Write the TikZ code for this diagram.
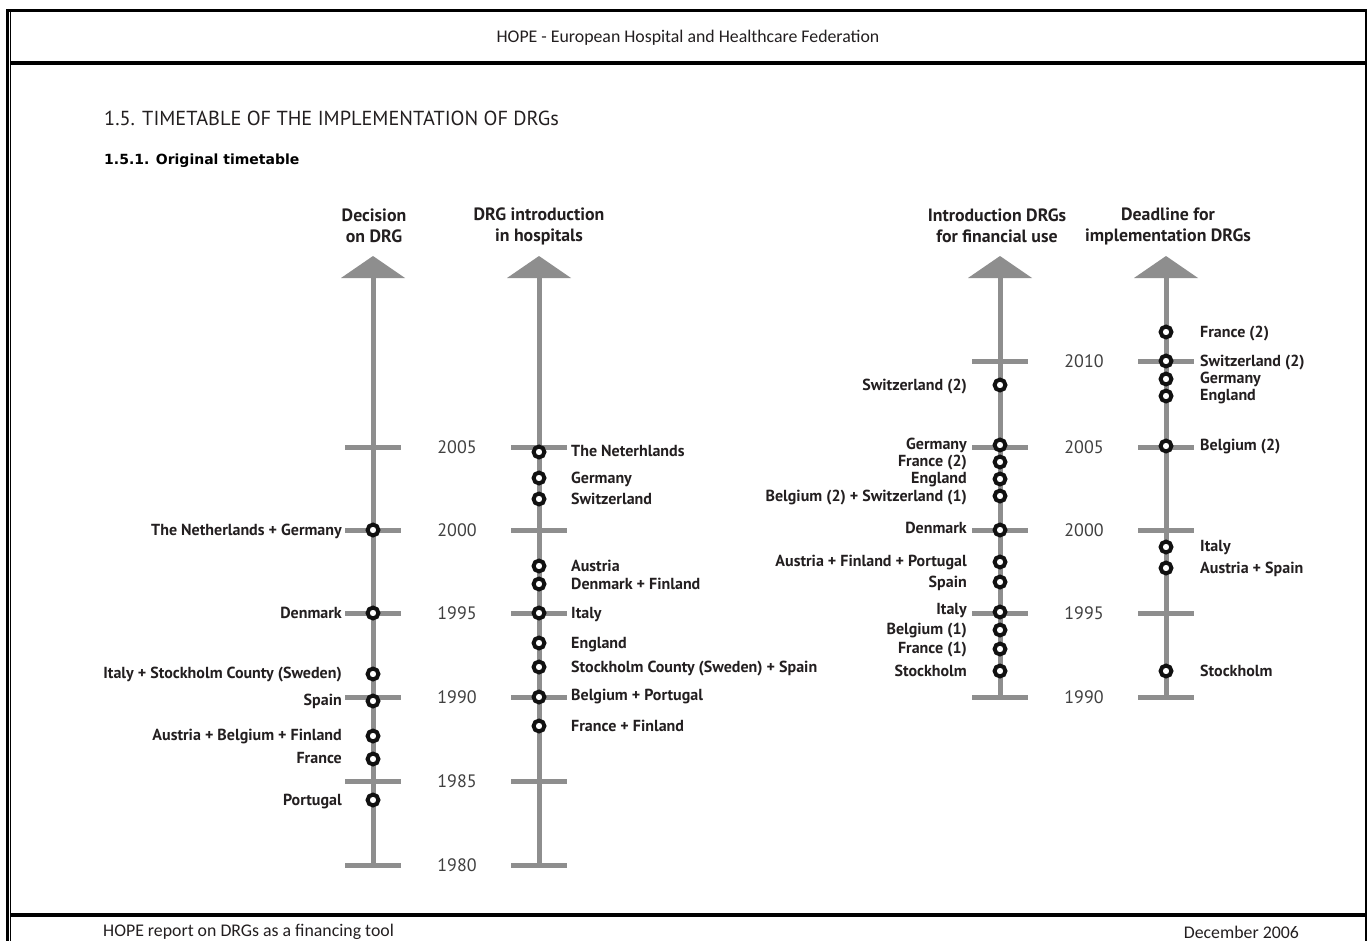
\documentclass[tikz,border=0pt]{standalone}
\usepackage{fontspec}
\setmainfont{PT Sans}
\newfontfamily\pagefont{Carlito}
\newfontfamily\subheadfont{DejaVu Sans}
\definecolor{axisgray}{HTML}{8E8E8E}
\definecolor{txtcol}{HTML}{231F20}
\definecolor{yrcol}{HTML}{404040}
\definecolor{ringcol}{HTML}{111111}
\newcommand\lblfont{\bfseries\fontsize{16}{18}\selectfont}
\newcommand\yearfont{\fontsize{18}{20}\selectfont}
\newcommand\axheadfont{\bfseries\fontsize{17.8}{21}\selectfont}
\newcommand\runfont{\pagefont\fontsize{17.8}{19}\selectfont}
\tikzset{
  axisline/.style={draw=axisgray, line width=5pt},
  axistip/.style={fill=axisgray},
  ring/.style={circle, draw=ringcol, fill=white, line width=4pt, minimum size=10.8pt, inner sep=0pt},
  lab/.style={font=\lblfont, text=txtcol, inner sep=0pt, text height=11pt, text depth=0pt},
  labL/.style={lab, anchor=east},
  labR/.style={lab, anchor=west},
  yr/.style={font=\yearfont, text=yrcol, inner sep=0pt, text height=12.4pt, text depth=0pt},
  axhead/.style={font=\axheadfont, text=txtcol, align=center, inner sep=0pt},
  frame/.style={draw=black}
}
\begin{document}
\begin{tikzpicture}[x=1pt,y=-1pt]
\useasboundingbox (0,0) rectangle (1372,941);
\fill[white] (0,0) rectangle (1372,941);

% page frame
\draw[frame, line width=2.5pt] (6,10.5) -- (1367,10.5);
\draw[frame, line width=3pt] (7.5,9) -- (7.5,941);
\draw[frame, line width=1.2pt] (10.8,12) -- (10.8,941);
\draw[frame, line width=2pt] (1366,9.5) -- (1366,941);
\draw[frame, line width=4pt] (10,63.5) -- (1367,63.5);
\draw[frame, line width=4pt] (10,915) -- (1367,915);

% running header and footer
\node[font=\runfont, text=txtcol, inner sep=0pt] (runhead) at (688,38) {HOPE - European Hospital and Healthcare Federation};
\node[font=\runfont, text=txtcol, inner sep=0pt, anchor=west] (runfootL) at (103,932) {HOPE report on DRGs as a financing tool};
\node[font=\runfont, text=txtcol, inner sep=0pt, anchor=east] (runfootR) at (1299,932) {December 2006};

% section titles
\node[font=\fontsize{20.3}{22}\selectfont, text=txtcol, inner sep=0pt, anchor=west] (title) at (104,118) {1.5. TIMETABLE OF THE IMPLEMENTATION OF DRGs};
\node[font=\subheadfont\bfseries\fontsize{14}{16}\selectfont, text=black, inner sep=0pt, anchor=west] (subtitle) at (104,161) {1.5.1. Original timetable};

% axis headings
\node[axhead] (h1) at (374,226) {Decision\\on DRG};
\node[axhead] (h2) at (539,226) {DRG introduction\\in hospitals};
\node[axhead] (h3) at (997,226) {Introduction DRGs\\for financial use};
\node[axhead] (h4) at (1168,226) {Deadline for\\implementation DRGs};

% ---------- axis 1: decision on DRG ----------
\coordinate (a1bot) at (373,865);
\coordinate (a1top) at (373,277);
\draw[axisline] (a1bot) -- (a1top);
\fill[axistip] (373,256) -- (405,278) -- (341,278) -- cycle;
\foreach \y in {865,781,697,613,530,447} \draw[axisline] (345,\y) -- (401,\y);

% ---------- axis 2: DRG introduction in hospitals ----------
\coordinate (a2bot) at (539,865);
\coordinate (a2top) at (539,277);
\draw[axisline] (a2bot) -- (a2top);
\fill[axistip] (539,256) -- (571,278) -- (507,278) -- cycle;
\foreach \y in {865,781,697,613,530,447} \draw[axisline] (511,\y) -- (567,\y);

% ---------- axis 3: financial use ----------
\coordinate (a3bot) at (1000,697);
\coordinate (a3top) at (1000,277);
\draw[axisline] (a3bot) -- (a3top);
\fill[axistip] (1000,256) -- (1032,278) -- (968,278) -- cycle;
\foreach \y in {697,613,530,447,361} \draw[axisline] (972,\y) -- (1028,\y);

% ---------- axis 4: deadline ----------
\coordinate (a4bot) at (1166,697);
\coordinate (a4top) at (1166,277);
\draw[axisline] (a4bot) -- (a4top);
\fill[axistip] (1166,256) -- (1198,278) -- (1134,278) -- cycle;
\foreach \y in {697,613,530,447,361} \draw[axisline] (1138,\y) -- (1194,\y);

% year labels
\node[yr] (y2005a) at (457,447) {2005};
\node[yr] (y2000a) at (457,530) {2000};
\node[yr] (y1995a) at (457,613) {1995};
\node[yr] (y1990a) at (457,697) {1990};
\node[yr] (y1985a) at (457,781) {1985};
\node[yr] (y1980a) at (457,865) {1980};
\node[yr] (y2010b) at (1084,361) {2010};
\node[yr] (y2005b) at (1084,447) {2005};
\node[yr] (y2000b) at (1084,530) {2000};
\node[yr] (y1995b) at (1084,613) {1995};
\node[yr] (y1990b) at (1084,697) {1990};

% events, axis 1
\node[ring] (d1) at (373,530) {};
\node[ring] (d2) at (373,613) {};
\node[ring] (d3) at (373,674) {};
\node[ring] (d4) at (373,701) {};
\node[ring] (d5) at (373,736) {};
\node[ring] (d6) at (373,759) {};
\node[ring] (d7) at (373,800) {};
\node[labL] at (342,530) {The Netherlands + Germany};
\node[labL] at (342,613) {Denmark};
\node[labL] at (342,673) {Italy + Stockholm County (Sweden)};
\node[labL] at (342,700) {Spain};
\node[labL] at (342,735) {Austria + Belgium + Finland};
\node[labL] at (342,758) {France};
\node[labL] at (342,800) {Portugal};

% events, axis 2
\node[ring] (i1) at (539,452) {};
\node[ring] (i2) at (539,478) {};
\node[ring] (i3) at (539,499) {};
\node[ring] (i4) at (539,566) {};
\node[ring] (i5) at (539,584) {};
\node[ring] (i6) at (539,613) {};
\node[ring] (i7) at (539,643) {};
\node[ring] (i8) at (539,667) {};
\node[ring] (i9) at (539,697) {};
\node[ring] (i10) at (539,726) {};
\node[labR] at (571,451) {The Neterhlands};
\node[labR] at (571,478) {Germany};
\node[labR] at (571,499) {Switzerland};
\node[labR] at (571,566) {Austria};
\node[labR] at (571,584) {Denmark + Finland};
\node[labR] at (571,613) {Italy};
\node[labR] at (571,643) {England};
\node[labR] at (571,667) {Stockholm County (Sweden) + Spain};
\node[labR] at (571,695) {Belgium + Portugal};
\node[labR] at (571,726) {France + Finland};

% events, axis 3
\node[ring] (f1) at (1000,385) {};
\node[ring] (f2) at (1000,445) {};
\node[ring] (f3) at (1000,462) {};
\node[ring] (f4) at (1000,479) {};
\node[ring] (f5) at (1000,496) {};
\node[ring] (f6) at (1000,530) {};
\node[ring] (f7) at (1000,562) {};
\node[ring] (f8) at (1000,582) {};
\node[ring] (f9) at (1000,612) {};
\node[ring] (f10) at (1000,630) {};
\node[ring] (f11) at (1000,649) {};
\node[ring] (f12) at (1000,671) {};
\node[labL] at (967,385) {Switzerland (2)};
\node[labL] at (967,444) {Germany};
\node[labL] at (967,461) {France (2)};
\node[labL] at (967,478) {England};
\node[labL] at (967,496) {Belgium (2) + Switzerland (1)};
\node[labL] at (967,528) {Denmark};
\node[labL] at (967,561) {Austria + Finland + Portugal};
\node[labL] at (967,582) {Spain};
\node[labL] at (967,609) {Italy};
\node[labL] at (967,629) {Belgium (1)};
\node[labL] at (967,648) {France (1)};
\node[labL] at (967,671) {Stockholm};

% events, axis 4
\node[ring] (e1) at (1166,332) {};
\node[ring] (e2) at (1166,361) {};
\node[ring] (e3) at (1166,379) {};
\node[ring] (e4) at (1166,396) {};
\node[ring] (e5) at (1166,446) {};
\node[ring] (e6) at (1166,547) {};
\node[ring] (e7) at (1166,568) {};
\node[ring] (e8) at (1166,671) {};
\node[labR] at (1200,332) {France (2)};
\node[labR] at (1200,361) {Switzerland (2)};
\node[labR] at (1200,378) {Germany};
\node[labR] at (1200,395) {England};
\node[labR] at (1200,445) {Belgium (2)};
\node[labR] at (1200,546) {Italy};
\node[labR] at (1200,568) {Austria + Spain};
\node[labR] at (1200,671) {Stockholm};
\end{tikzpicture}
\end{document}
